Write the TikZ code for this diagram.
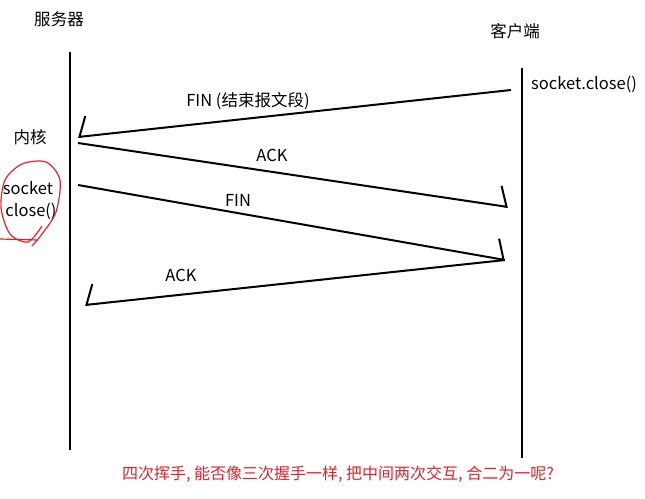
\documentclass[tikz,border=0pt]{standalone}
\usepackage{fontspec}
\setmainfont{Noto Sans CJK SC}
\usetikzlibrary{arrows.meta, positioning}
\definecolor{inkred}{RGB}{225, 35, 45}
\tikzset{
    lifeline/.style={draw=black, line width=2.2pt},
    lbl/.style    ={font=\fontsize{16.5}{18}\selectfont, inner sep=1pt},
    head/.style   ={font=\fontsize{16.5}{18}\selectfont, inner sep=1pt},
    msgl/.style   ={line width=2pt, -{Straight Barb[harpoon, length=8pt, width=40pt, line width=2pt]}},
    msgr/.style   ={line width=2pt, -{Straight Barb[harpoon, swap, length=8pt, width=40pt, line width=2pt]}},
    note/.style   ={font=\fontsize{16}{18}\selectfont, text=inkred, inner sep=1pt}
}

\begin{document}
\begin{tikzpicture}[x=1pt, y=-1pt]
  \useasboundingbox (0,0) rectangle (645,498);

  % lifelines
  \coordinate (srvtop) at (70,52);
  \coordinate (srvbot) at (70,450);
  \coordinate (clitop) at (522,68);
  \coordinate (clibot) at (522,458);
  \draw[lifeline] (srvtop) -- (srvbot);
  \draw[lifeline] (clitop) -- (clibot);

  \node[head] (srv) at (59,19) {服务器};
  \node[head] (cli) at (515,31) {客户端};
  \node[lbl, right] (cliclose) at (530,84) {socket.close()};
  \node[lbl] (kernel) at (30,137) {内核};
  \node[lbl] (sock) at (28,188) {socket};
  \node[lbl, below=6pt of sock.south, anchor=north, xshift=3pt] (close) {close()};

  % message end points
  \coordinate (c1) at (511,90);
  \coordinate (s1) at (78,137);
  \coordinate (s2) at (78,143);
  \coordinate (c2) at (508,207);
  \coordinate (s3) at (78,185);
  \coordinate (c3) at (505,260);
  \coordinate (s4) at (85,305);

  \draw[msgr] (c1) -- (s1);
  \draw[msgl] (s2) -- (c2);
  \draw[msgl] (s3) -- (c3);
  \draw[msgr] (c3) -- (s4);

  \node[lbl] (fin1) at (248,101) {FIN (结束报文段)};
  \node[lbl] (ack1) at (272,155) {ACK};
  \node[lbl] (fin2) at (238,200) {FIN};
  \node[lbl] (ack2) at (181,275) {ACK};

  % red hand mark
  \draw[inkred, line width=1.2pt] plot[smooth] coordinates
    {(42,226) (28,242) (10,234) (1,208) (5,180) (22,164) (46,162) (60,180) (56,212) (42,234) (32,246)};
  \draw[inkred, line width=1.2pt] (0,239) -- (38,240);

  \node[note] (question) at (338,474) {四次挥手, 能否像三次握手一样, 把中间两次交互, 合二为一呢?};
\end{tikzpicture}
\end{document}
